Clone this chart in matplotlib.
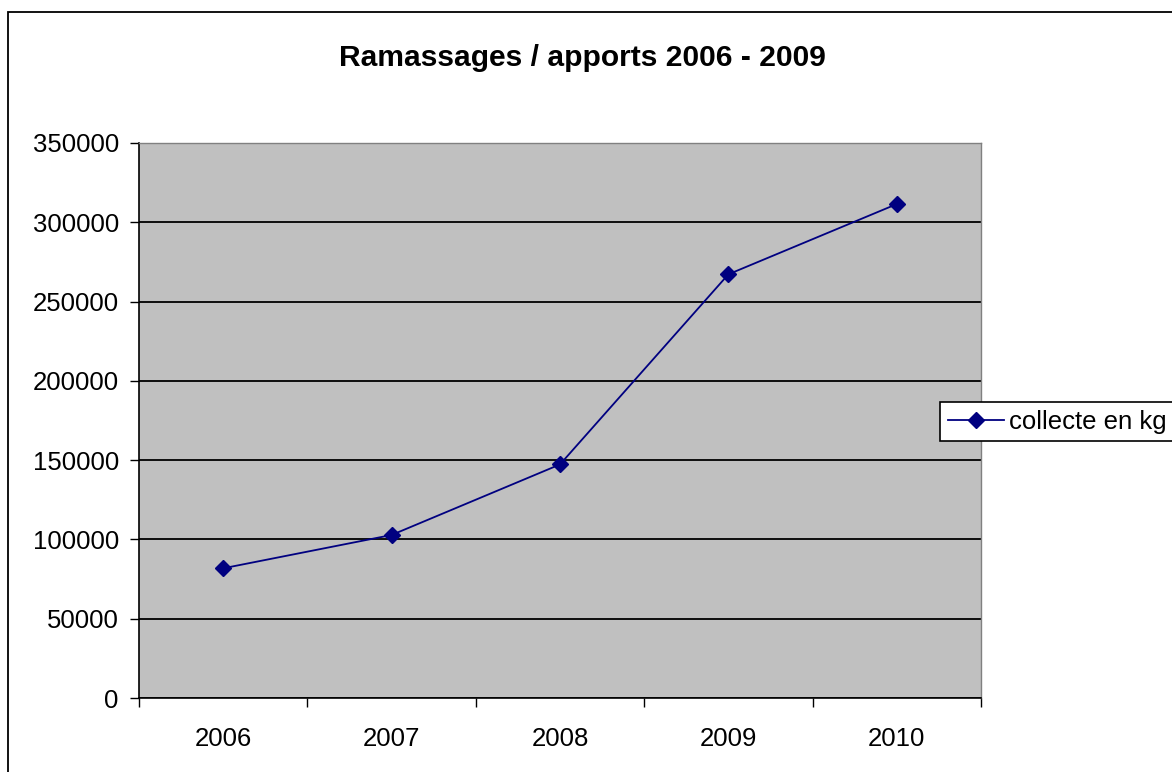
import matplotlib
matplotlib.use("Agg")
import matplotlib.pyplot as plt
from matplotlib.patches import Rectangle

years = ["2006", "2007", "2008", "2009", "2010"]
collecte_kg = [81800, 102800, 147300, 267200, 311500]
y_ticks = [0, 50000, 100000, 150000, 200000, 250000, 300000, 350000]
title = "Ramassages / apports 2006 - 2009"
series_name = "collecte en kg"

plt.rcParams['font.family'] = ['Liberation Sans', 'DejaVu Sans']

W, H = 1172, 772
fig = plt.figure(figsize=(W / 100, H / 100), dpi=100)
fig.patch.set_facecolor('white')

# outer chart border
fig.patches.append(Rectangle((8 / W, -0.05), 1.1, 1 - 12 / H + 0.05,
                             transform=fig.transFigure, fill=False,
                             edgecolor='black', linewidth=1.3, zorder=0))

ax = fig.add_axes([139 / W, 1 - 698 / H, (981 - 139) / W, (698 - 143) / H])
ax.set_facecolor('#C0C0C0')

x = [i + 0.5 for i in range(len(years))]
ax.plot(x, collecte_kg, color='#000080', linewidth=1.3, marker='D',
        markersize=8, markerfacecolor='#000080', markeredgecolor='#000080',
        label=series_name, zorder=3)

ax.set_xlim(0, len(years))
ax.set_ylim(0, 350000)
ax.set_yticks(y_ticks)
ax.set_yticklabels([str(v) for v in y_ticks])
ax.yaxis.grid(True, color='black', linewidth=1.3)
ax.set_axisbelow(True)

ax.set_xticks(range(len(years) + 1))
ax.set_xticklabels([])
ax.set_xticks(x, minor=True)
ax.set_xticklabels(years, minor=True)
ax.tick_params(axis='x', which='major', direction='out', length=6.5, width=1, color='black')
ax.tick_params(axis='x', which='minor', length=0, pad=21, labelsize=18.5)
ax.tick_params(axis='y', direction='out', length=6.5, width=1, pad=8, labelsize=18.5)

for s in ['top', 'right']:
    ax.spines[s].set_color('#808080')
    ax.spines[s].set_linewidth(1)
for s in ['left', 'bottom']:
    ax.spines[s].set_color('black')
    ax.spines[s].set_linewidth(1.2)

fig.text(582 / W, 1 - 58 / H, title, ha='center', va='center',
         fontsize=21.6, fontweight='bold')

leg = fig.legend(loc='upper left', bbox_to_anchor=(940 / W, 1 - 402 / H),
                 bbox_transform=fig.transFigure, frameon=True, fancybox=False,
                 fontsize=18.5, handlelength=2.2, borderpad=0.3,
                 handletextpad=0.2, borderaxespad=0, framealpha=1,
                 facecolor='white')
leg.get_frame().set_edgecolor('black')
leg.get_frame().set_linewidth(1.2)

fig.savefig('out.png', dpi=100)
